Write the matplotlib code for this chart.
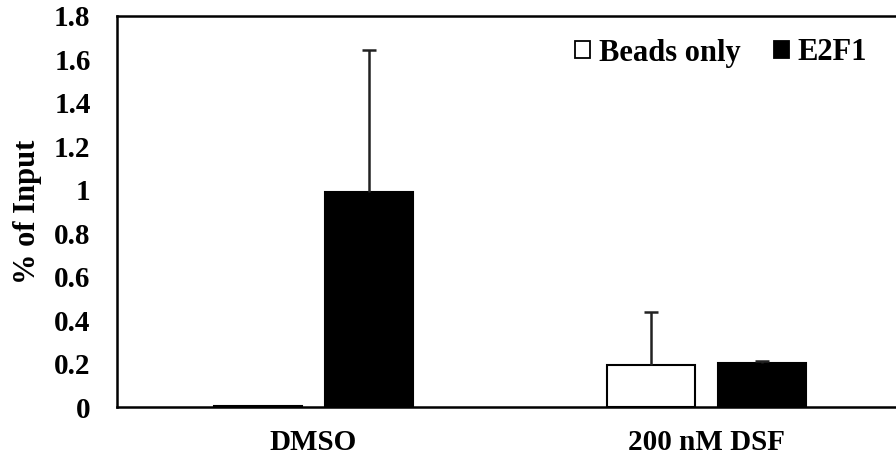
import matplotlib
matplotlib.use("Agg")
import matplotlib.pyplot as plt
from matplotlib.patches import Patch
import numpy as np

categories = ["DMSO", "200 nM DSF"]
series_names = ["Beads only", "E2F1"]
beads_vals = [0.005, 0.193]
beads_err = [0.0, 0.244]
e2f1_vals = [0.99, 0.201]
e2f1_err = [0.654, 0.011]
yticks = [0, 0.2, 0.4, 0.6, 0.8, 1, 1.2, 1.4, 1.6, 1.8]
ytick_labels = ["0", "0.2", "0.4", "0.6", "0.8", "1", "1.2", "1.4", "1.6", "1.8"]

plt.rcParams['font.family'] = ['Liberation Serif', 'DejaVu Serif']
plt.rcParams['font.weight'] = 'bold'

fig = plt.figure(figsize=(8.96, 4.61), dpi=100)
W, H = 896, 461
ax = fig.add_axes([117 / W, (H - 407) / H, 786 / W, 391 / H])

x = np.arange(len(categories))
bw = 0.224
off = 0.14
ax.bar(x - off, beads_vals, bw, color='white', edgecolor='black', linewidth=1.5, zorder=2)
ax.bar(x + off, e2f1_vals, bw, color='black', edgecolor='black', linewidth=1.5, zorder=2)

for xs, vals, errs in [(x - off, beads_vals, beads_err), (x + off, e2f1_vals, e2f1_err)]:
    for xi, v, e in zip(xs, vals, errs):
        if e <= 0:
            continue
        _, caps, _ = ax.errorbar([xi], [v], yerr=[[0], [e]], fmt='none', ecolor='#222222',
                                 elinewidth=1.8, capsize=5, capthick=1.8, zorder=3)
        caps[0].set_visible(False)

ax.set_xlim(-0.5, 1.5)
ax.set_ylim(0, 1.8)
ax.set_yticks(yticks)
ax.set_yticklabels(ytick_labels, fontsize=21, fontweight='bold')
ax.set_xticks(x)
ax.set_xticklabels(categories, fontsize=21, fontweight='bold')
ax.tick_params(axis='y', length=0, pad=19)
ax.tick_params(axis='x', length=0, pad=16)
for s in ax.spines.values():
    s.set_linewidth(1.8)
ax.set_ylabel("% of Input", fontsize=22, fontweight='bold', labelpad=9)

handles = [Patch(facecolor='white', edgecolor='black', linewidth=1.3),
           Patch(facecolor='black', edgecolor='black', linewidth=1.3)]
fig.legend(handles, series_names, loc='center left',
           bbox_to_anchor=(575 / W, 1 - 53 / H), ncol=2, frameon=False,
           handlelength=0.5, handleheight=0.5, handletextpad=0.27,
           columnspacing=1.1, borderpad=0, borderaxespad=0,
           prop={'family': 'Liberation Serif', 'weight': 'bold', 'size': 22})

fig.savefig("out.png", dpi=100)
